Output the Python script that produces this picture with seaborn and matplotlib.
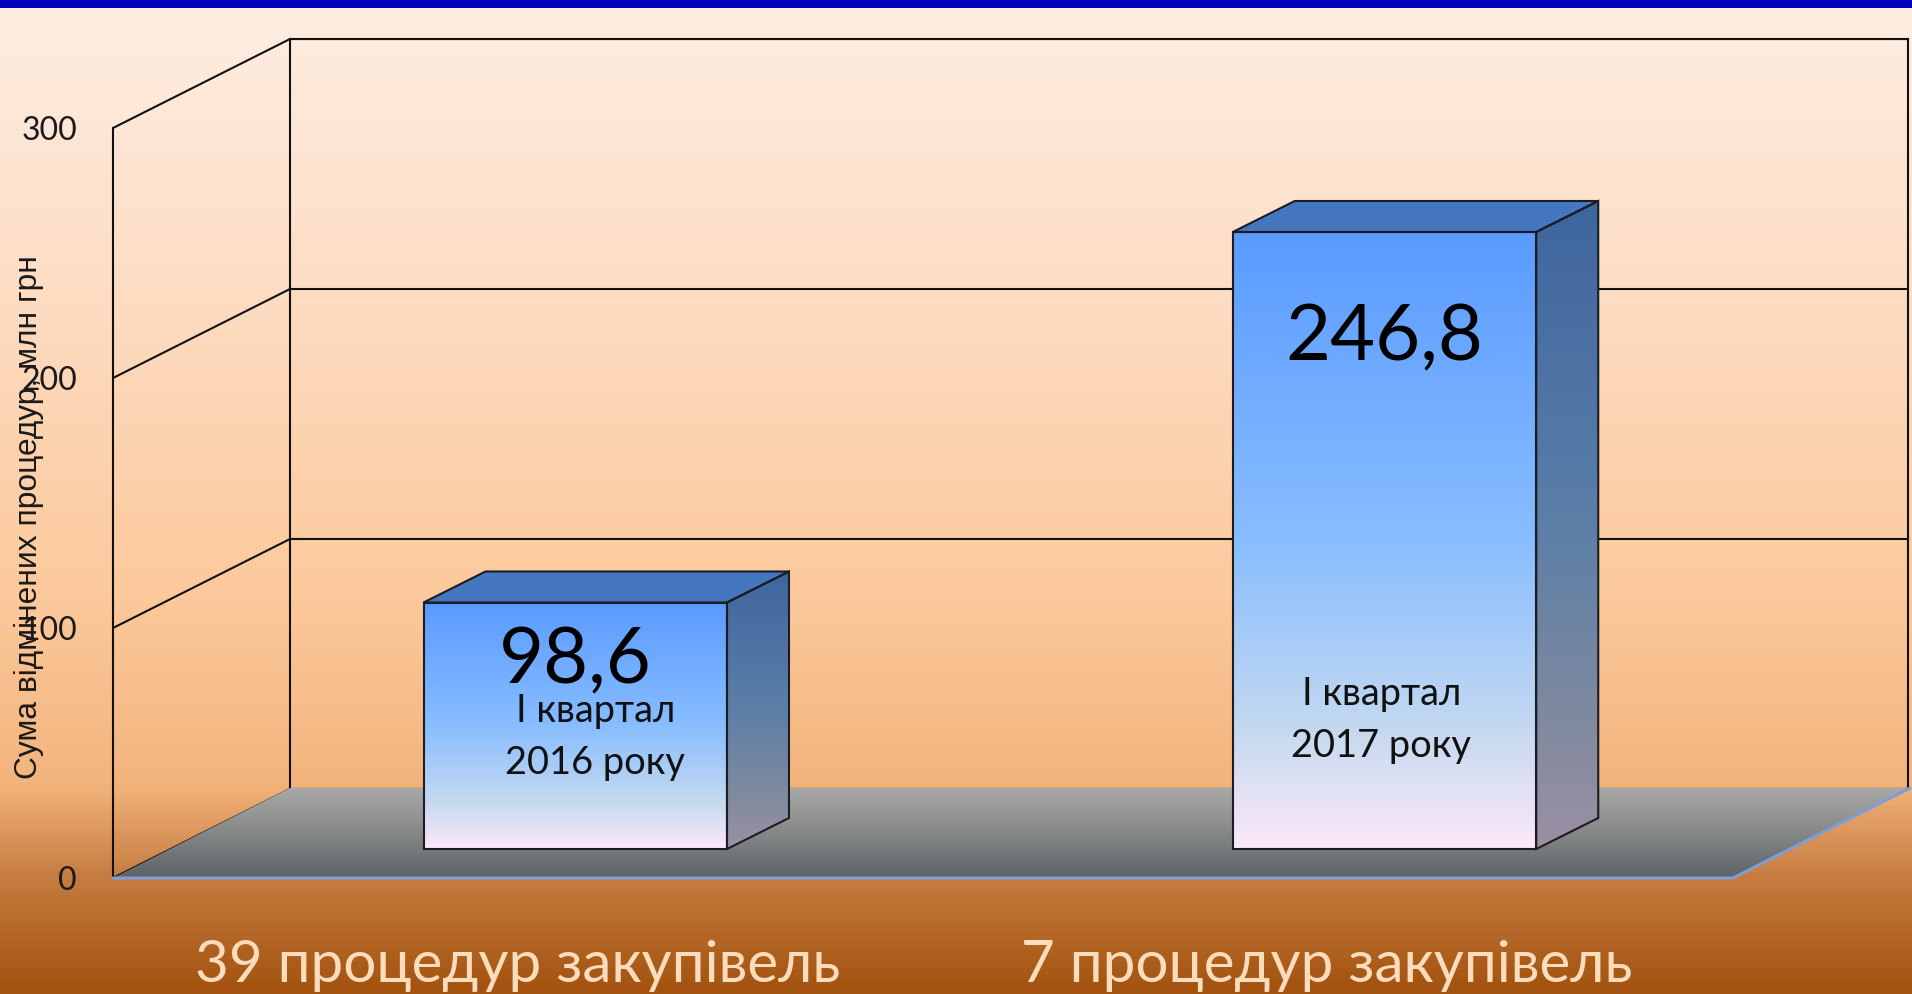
import numpy as np
import pandas as pd
import seaborn as sns
import matplotlib.pyplot as plt
from matplotlib.colors import LinearSegmentedColormap
from matplotlib.patches import ConnectionPatch, Polygon, Rectangle

# data
periods = ['І квартал\n2016 року', 'І квартал\n2017 року']
procedures = ['39 процедур закупівель', '7 процедур закупівель']
amounts = [98.6, 246.8]
y_ticks = [0, 100, 200, 300]
y_title = 'Сума відмінених процедур, млн грн'

W, H = 1912, 994

sns.set_theme(style='white')
plt.rcParams['font.family'] = ['Lato', 'DejaVu Sans']


def gradient(ax, stops, extent, clip=None, zorder=1):
    cmap = LinearSegmentedColormap.from_list('g', stops)
    img = ax.imshow(np.linspace(0, 1, 256)[:, None], cmap=cmap, extent=extent, origin='upper',
                    aspect='auto', interpolation='bilinear', zorder=zorder)
    if clip is not None:
        ax.add_patch(clip)
        img.set_clip_path(clip)
    return img


def box(left, top, right, bottom):
    # pixel box (from top left) to figure fractions
    return [left / W, 1 - bottom / H, (right - left) / W, (bottom - top) / H]


fig = plt.figure(figsize=(W / 100, H / 100), dpi=100)

# 1. Page background
bg = fig.add_axes([0, 0, 1, 1], zorder=0)
bg_stops = [(0, '#fdeee2'), (0.15, '#fde5d3'), (0.3, '#fddcc2'), (0.6, '#fcc99c'), (0.79, '#f3b47c'),
            (0.885, '#c67c40'), (1, '#a3530f')]
gradient(bg, bg_stops, (0, W, H, 0))
bg.add_patch(Rectangle((0, 0), W, 8, color='#0000c0', zorder=3, lw=0))
bg.set_xlim(0, W)
bg.set_ylim(H, 0)
bg.axis('off')

# 2. Back wall with grid
wall = fig.add_axes(box(290, 39, 1908, 789), zorder=1)
wall.patch.set_alpha(0)
wall.set_ylim(0, 300)
wall.set_xticks([])
wall.set_yticks(y_ticks)
wall.tick_params(left=False, labelleft=False)
wall.grid(axis='y', color='#111111', lw=1.5)
for s in wall.spines.values():
    s.set_visible(True)
    s.set_color('#111111')
    s.set_linewidth(1.5)

# 3. Front axis with the tick labels
front = fig.add_axes(box(113, 128, 1733, 878), zorder=2)
front.patch.set_alpha(0)
front.set_ylim(0, 300)
front.set_xticks([])
front.set_yticks(y_ticks)
front.tick_params(axis='y', length=0, pad=26, labelsize=23, labelcolor='#1a1a1a')
front.set_ylabel(y_title, fontsize=22.9, family='Liberation Sans', color='#1a1a1a')
front.yaxis.set_label_coords(-69 / 1620, (878 - 517) / 750)
for name, s in front.spines.items():
    s.set_visible(name == 'left')
s = front.spines['left']
s.set_color('#111111')
s.set_linewidth(1.5)

for v in y_ticks:
    fig.add_artist(ConnectionPatch((0, v), (0, v), coordsA=front.get_yaxis_transform(),
                                   coordsB=wall.get_yaxis_transform(), color='#111111', lw=1.5, zorder=2))

# 4. Floor
floor = fig.add_axes([0, 0, 1, 1], zorder=3)
floor.patch.set_alpha(0)
floor_shape = Polygon([(113, 878), (1733, 878), (1910, 788), (290, 788)], closed=True,
                      transform=floor.transData, facecolor='none', edgecolor='none')
gradient(floor, [(0, '#a8a8a7'), (0.5, '#868887'), (1, '#5c6268')], (0, W, 878, 788), clip=floor_shape)
floor.plot([113, 1733, 1910], [878, 878, 788], color='#7c9fd6', lw=2.2, zorder=3)
floor.set_xlim(0, W)
floor.set_ylim(H, 0)
floor.axis('off')

# 5. Bars: the axes fill the figure so the bar plane lines up with the walls
ax = fig.add_axes([0, 0, 1, 1], zorder=4)
ax.patch.set_alpha(0)
df = pd.DataFrame({'period': periods, 'amount': amounts})
sns.barplot(data=df, x='period', y='amount', width=0.375, color='#5c9dff', ax=ax)

step, unit = 809.25, 2.5
xlim = (-575.25 / step, (W - 575.25) / step)
ylim = (-(H - 849) / unit, 849 / unit)
depth_x, depth_y = 62 / step, 31 / unit

front_stops = [(0, '#5a9bff'), (0.5, '#88bdff'), (0.8, '#c3d8f0'), (1, '#fbe9f8')]
side_stops = [(0, '#3e659f'), (0.5, '#5c7fa8'), (0.8, '#7f8a9f'), (1, '#9c90a4')]
edge = dict(edgecolor='#1c1c24', lw=1.5, facecolor='none', zorder=5)

for bar in ax.patches[:len(amounts)]:
    x0, x1, top = bar.get_x(), bar.get_x() + bar.get_width(), bar.get_height()
    bar.set_facecolor('none')
    bar.set_edgecolor('#1c1c24')
    bar.set_linewidth(1.5)
    bar.set_zorder(5)
    gradient(ax, front_stops, (x0, x1, 0, top), zorder=2)

    side = Polygon([(x1, 0), (x1 + depth_x, depth_y), (x1 + depth_x, top + depth_y), (x1, top)],
                   closed=True, facecolor='none', edgecolor='none')
    gradient(ax, side_stops, (x1, x1 + depth_x, 0, top + depth_y), clip=side, zorder=2)
    ax.add_patch(Polygon(side.get_xy(), closed=True, **edge))
    ax.add_patch(Polygon([(x0, top), (x1, top), (x1 + depth_x, top + depth_y), (x0 + depth_x, top + depth_y)],
                         closed=True, facecolor='#4577c0', edgecolor='#1c1c24', lw=1.5, zorder=4))

# 6. Labels
value_base = [66.4, 195.6]
period_x = [0.025, -0.004]
period_base = [[50.8, 30], [57.6, 36.8]]
for i, v in enumerate(amounts):
    ax.text(i, value_base[i], f'{v:.1f}'.replace('.', ','), ha='center', va='baseline',
            fontsize=56, color='black', zorder=6)
    for line, y in zip(periods[i].split('\n'), period_base[i]):
        ax.text(i + period_x[i], y, line, ha='center', va='baseline', fontsize=27.4, color='#111111', zorder=6)
    ax.text(i - 58 / step, -46.5, procedures[i], ha='center', va='center', fontsize=42, color='#fbdcbc', zorder=6)

ax.set_xlim(xlim)
ax.set_ylim(ylim)
ax.axis('off')

fig.savefig('out.png', dpi=100)
